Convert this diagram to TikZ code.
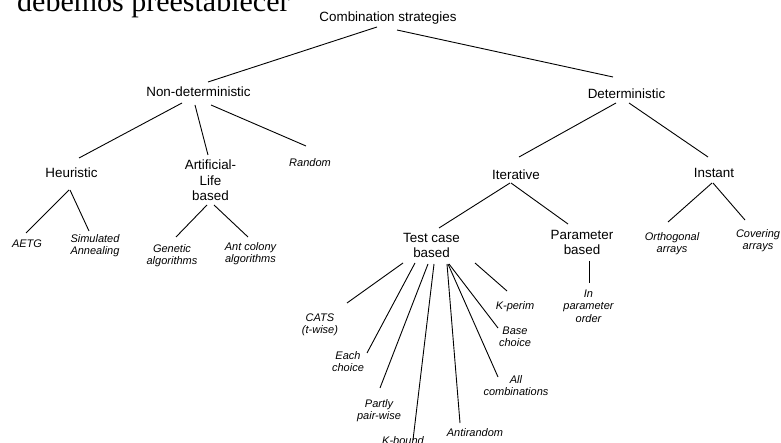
\documentclass[tikz,border=0pt]{standalone}
\usepackage{fontspec}
\setmainfont{Liberation Sans}
\newfontfamily\headserif{Liberation Serif}
\begin{document}
\begin{tikzpicture}[x=1pt,y=-1pt,
  branch/.style={draw=black, line width=0.9pt},
  cat/.style={inner sep=0pt, font=\fontsize{13.4}{15.75}\selectfont, align=center},
  leaf/.style={inner sep=0pt, font=\fontsize{11}{12.6}\selectfont\itshape, align=center},
]
\clip (0,0) rectangle (781,443);

% heading line running off the top edge
\node[anchor=base west, inner sep=0pt, font=\headserif\fontsize{30}{36}\selectfont] (heading) at (17,12) {debemos preestablecer};

% category labels
\node[cat,anchor=base]  (root)     at (388,21.5)   {Combination strategies};
\node[cat,anchor=base]  (nondet)   at (198.5,96.5) {Non-deterministic};
\node[cat,anchor=base]  (det)      at (626.5,99)   {Deterministic};
\node[cat,anchor=base]  (heur)     at (71.5,178)   {Heuristic};
\node[cat,anchor=north] (alife)    at (210.5,159.4){Artificial-\\Life\\based};
\node[cat,anchor=base]  (iter)     at (516,180)    {Iterative};
\node[cat,anchor=base]  (instant)  at (714,178)    {Instant};
\node[cat,anchor=north] (testcase) at (431.5,232.7){Test case\\based};
\node[cat,anchor=north] (param)    at (582,229.7)  {Parameter\\based};

% leaf strategies
\node[leaf,anchor=base]  (random)   at (310,167)   {Random};
\node[leaf,anchor=base]  (aetg)     at (27,248)    {AETG};
\node[leaf,anchor=north] (simann)   at (95,234.1)  {Simulated\\Annealing};
\node[leaf,anchor=north] (genetic)  at (172,244.1) {Genetic\\algorithms};
\node[leaf,anchor=north] (antcol)   at (250.5,242.1){Ant colony\\algorithms};
\node[leaf,anchor=north] (orth)     at (672,232.1) {Orthogonal\\arrays};
\node[leaf,anchor=north] (cover)    at (758,229.1) {Covering\\arrays};
\node[leaf,anchor=north] (ipo)      at (588.5,289.4){In\\parameter\\order};
\node[leaf,anchor=north] (cats)     at (320,313.4) {CATS\\(t-wise)};
\node[leaf,anchor=north] (each)     at (348,351.1) {Each\\choice};
\node[leaf,anchor=north] (partly)   at (379,399.1) {Partly\\pair-wise};
\node[leaf,anchor=base]  (kbound)   at (403,444)   {K-bound};
\node[leaf,anchor=base]  (antirand) at (475,436)   {Antirandom};
\node[leaf,anchor=north] (allcomb)  at (516,375.1) {All\\combinations};
\node[leaf,anchor=north] (basech)   at (515,326.4) {Base\\choice};
\node[leaf,anchor=base]  (kperim)   at (515,309)   {K-perim};

% connector end points
\coordinate (root-l)   at (377,27);   \coordinate (nondet-t) at (208,82);
\coordinate (root-r)   at (397,30);   \coordinate (det-t)    at (613,77);
\coordinate (nondet-a) at (182,103);  \coordinate (heur-t)   at (79,158);
\coordinate (nondet-b) at (195,105);  \coordinate (alife-t)  at (208,155);
\coordinate (nondet-c) at (211,105);  \coordinate (random-t) at (306,146);
\coordinate (heur-a)   at (69,190);   \coordinate (aetg-t)   at (26,233);
\coordinate (heur-b)   at (70,190);   \coordinate (simann-t) at (89,231);
\coordinate (alife-a)  at (207,205);  \coordinate (genetic-t) at (176,237);
\coordinate (alife-b)  at (214,205);  \coordinate (antcol-t) at (248,237);
\coordinate (det-a)    at (616,103);  \coordinate (iter-t)   at (519,157);
\coordinate (det-b)    at (629,103);  \coordinate (instant-t) at (708,157);
\coordinate (iter-a)   at (510,183);  \coordinate (testcase-t) at (439,228);
\coordinate (iter-b)   at (511,183);  \coordinate (param-t)  at (568,224);
\coordinate (instant-a) at (712,183); \coordinate (orth-t)   at (668,222);
\coordinate (instant-b) at (713,183); \coordinate (cover-t)  at (745,220);
\coordinate (param-b)  at (589,261);  \coordinate (ipo-t)    at (589,283);
\coordinate (tc-1) at (403,263);      \coordinate (cats-t)     at (347,303);
\coordinate (tc-2) at (415,263);      \coordinate (each-t)     at (367,353);
\coordinate (tc-3) at (428,264);      \coordinate (partly-t)   at (380,388);
\coordinate (tc-4) at (434,264);      \coordinate (kbound-t)   at (413,440);
\coordinate (tc-5) at (447,264);      \coordinate (antirand-t) at (460,423);
\coordinate (tc-6) at (448,264);      \coordinate (allcomb-t)  at (498,377);
\coordinate (tc-7) at (449,264);      \coordinate (basech-t)   at (498,328);
\coordinate (tc-8) at (475,263);      \coordinate (kperim-t)   at (507,291);

% tree branches
\draw[branch] (root-l) -- (nondet-t);
\draw[branch] (root-r) -- (det-t);
\draw[branch] (nondet-a) -- (heur-t);
\draw[branch] (nondet-b) -- (alife-t);
\draw[branch] (nondet-c) -- (random-t);
\draw[branch] (heur-a) -- (aetg-t);
\draw[branch] (heur-b) -- (simann-t);
\draw[branch] (alife-a) -- (genetic-t);
\draw[branch] (alife-b) -- (antcol-t);
\draw[branch] (det-a) -- (iter-t);
\draw[branch] (det-b) -- (instant-t);
\draw[branch] (iter-a) -- (testcase-t);
\draw[branch] (iter-b) -- (param-t);
\draw[branch] (instant-a) -- (orth-t);
\draw[branch] (instant-b) -- (cover-t);
\draw[branch] (param-b) -- (ipo-t);
\draw[branch] (tc-1) -- (cats-t);
\draw[branch] (tc-2) -- (each-t);
\draw[branch] (tc-3) -- (partly-t);
\draw[branch] (tc-4) -- (kbound-t);
\draw[branch] (tc-5) -- (antirand-t);
\draw[branch] (tc-6) -- (allcomb-t);
\draw[branch] (tc-7) -- (basech-t);
\draw[branch] (tc-8) -- (kperim-t);
\end{tikzpicture}
\end{document}
